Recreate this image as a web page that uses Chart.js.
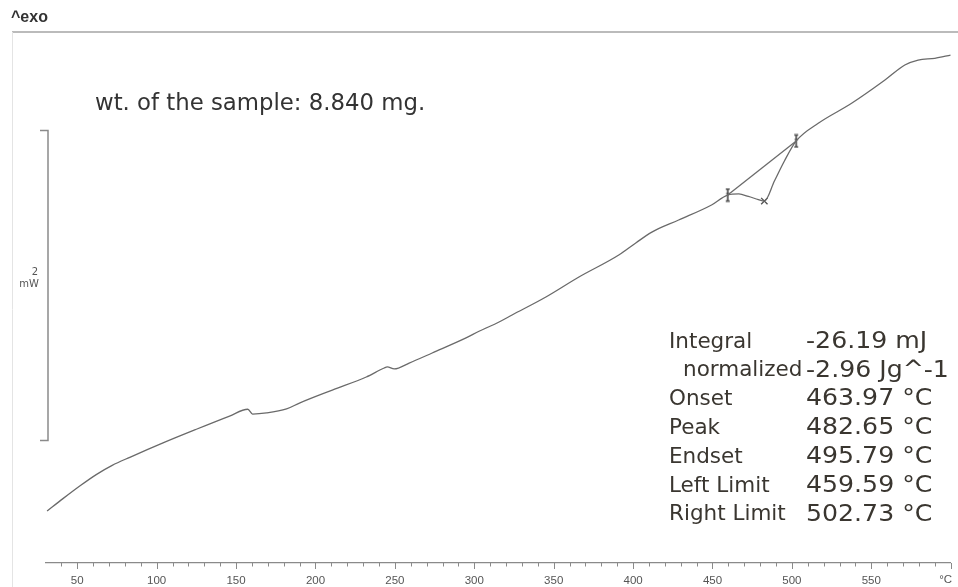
<!DOCTYPE html>
<html>
<head>
<meta charset="utf-8">
<script src="https://cdn.jsdelivr.net/npm/chart.js@4.4.1/dist/chart.umd.min.js"></script>
<style>
  html, body { margin: 0; padding: 0; background: #ffffff; }
  canvas { display: block; }
</style>
</head>
<body>
<canvas id="dsc" width="958" height="587"></canvas>
<script>
// DSC heating run: sample temperature (°C) and heat flow (mW, relative offset)
const temperature = [31.0, 41.2, 52.0, 62.2, 72.0, 83.1, 104.0, 125.0, 145.9, 157.4,
  160.4, 169.2, 181.8, 189.9, 210.6, 232.0, 243.3, 245.2, 249.6, 259.0,
  273.5, 294.8, 303.0, 315.6, 323.8, 345.1, 365.9, 391.0, 401.7, 411.8,
  428.7, 449.4, 459.59, 466.6, 472.6, 478.9, 482.65, 489.0, 495.3, 502.73,
  516.6, 537.6, 558.6, 571.1, 579.5, 590.0, 600.0];
const heatFlow = [0.335, 0.417, 0.500, 0.572, 0.630, 0.682, 0.775, 0.863, 0.948, 0.992,
  0.961, 0.968, 0.994, 1.032, 1.116, 1.200, 1.258, 1.265, 1.252, 1.290,
  1.355, 1.452, 1.495, 1.555, 1.600, 1.716, 1.845, 1.987, 2.065, 2.135,
  2.213, 2.310, 2.374, 2.381, 2.365, 2.345, 2.335, 2.465, 2.594, 2.723,
  2.837, 2.966, 3.116, 3.213, 3.245, 3.256, 3.277];

// peak evaluation limits and peak temperature (°C)
const leftLimit = 459.59;
const rightLimit = 502.73;
const peakTemp = 482.65;

// x axis tick labels (°C)
const tickLabels = [50, 100, 150, 200, 250, 300, 350, 400, 450, 500, 550];
const axisMin = 30;
const axisMax = 600;
const minorStep = 10;

// heat-flow scale bar (mW)
const scaleBarSpan = 2;
const scaleBarBase = 0.79;

// evaluation results
const resultNames = ['Integral', 'normalized', 'Onset', 'Peak', 'Endset', 'Left Limit', 'Right Limit'];
const resultIndent = [0, 1, 0, 0, 0, 0, 0];
const resultValues = ['-26.19 mJ', '-2.96 Jg^-1', '463.97 °C', '482.65 °C', '495.79 °C', '459.59 °C', '502.73 °C'];
const sampleNote = 'wt. of the sample: 8.840 mg.';

const points = temperature.map((t, i) => ({ x: t, y: heatFlow[i] }));
const at = t => points[temperature.indexOf(t)];

// limit marker glyph: short vertical bar with small serifs
function limitGlyph() {
  const c = document.createElement('canvas');
  c.width = 8; c.height = 15;
  const g = c.getContext('2d');
  g.strokeStyle = '#4a4a4a';
  g.lineWidth = 1.6;
  g.beginPath();
  g.moveTo(4, 1); g.lineTo(4, 14);
  g.moveTo(2, 1.5); g.lineTo(6, 1.5);
  g.moveTo(2, 13.5); g.lineTo(6, 13.5);
  g.moveTo(2.5, 6); g.lineTo(5.5, 6);
  g.stroke();
  return c;
}
const limitMark = limitGlyph();

const decorations = {
  id: 'decorations',
  afterDraw(chart) {
    const { ctx, chartArea: area, scales: { x, y } } = chart;
    ctx.save();

    // frame
    ctx.strokeStyle = '#a4a4a4';
    ctx.lineWidth = 1.5;
    ctx.beginPath(); ctx.moveTo(12, area.top); ctx.lineTo(958, area.top); ctx.stroke();
    ctx.strokeStyle = '#e4e4e4';
    ctx.lineWidth = 1;
    ctx.beginPath(); ctx.moveTo(12.5, area.top); ctx.lineTo(12.5, 587); ctx.stroke();

    // exo direction label
    ctx.fillStyle = '#333333';
    ctx.font = 'bold 16px "Liberation Sans", Arial, sans-serif';
    ctx.textBaseline = 'middle';
    ctx.textAlign = 'left';
    ctx.fillText('^exo', 11, 18);

    // x axis tick marks
    ctx.strokeStyle = '#8a8a8a';
    ctx.lineWidth = 1;
    ctx.beginPath();
    for (let t = axisMin + minorStep; t <= axisMax; t += minorStep) {
      const px = Math.round(x.getPixelForValue(t)) + 0.5;
      const len = (t % 50 === 0) ? 6 : 3.5;
      ctx.moveTo(px, area.bottom);
      ctx.lineTo(px, area.bottom + len);
    }
    ctx.stroke();

    // unit at the end of the axis
    ctx.fillStyle = '#555555';
    ctx.font = '11.5px "Liberation Sans", Arial, sans-serif';
    ctx.textAlign = 'center';
    ctx.fillText('°C', x.getPixelForValue(axisMax) - 5, 580);

    // scale bar
    const yTop = y.getPixelForValue(scaleBarBase + scaleBarSpan);
    const yBot = y.getPixelForValue(scaleBarBase);
    ctx.strokeStyle = '#8a8a8a';
    ctx.lineWidth = 1.5;
    ctx.beginPath();
    ctx.moveTo(40, yTop); ctx.lineTo(48, yTop); ctx.lineTo(48, yBot); ctx.lineTo(40, yBot);
    ctx.stroke();
    ctx.fillStyle = '#555555';
    ctx.font = '10px "DejaVu Sans", sans-serif';
    ctx.textAlign = 'right';
    ctx.fillText(String(scaleBarSpan), 38, 272);
    ctx.fillText('mW', 39, 284);

    // sample note
    ctx.fillStyle = '#333333';
    ctx.textAlign = 'left';
    ctx.font = '22.8px "DejaVu Sans", sans-serif';
    ctx.fillText(sampleNote, 95, 104);

    // results table
    resultNames.forEach((name, i) => {
      const ty = 342 + i * 28.8;
      ctx.fillStyle = '#3a3630';
      ctx.font = '21.5px "DejaVu Sans", sans-serif';
      ctx.fillText(name, 669 + resultIndent[i] * 14, ty);
      ctx.save();
      ctx.translate(806, ty);
      ctx.scale(1.12, 1);
      ctx.font = '22.5px "DejaVu Sans", sans-serif';
      ctx.fillText(resultValues[i], 0, 0);
      ctx.restore();
    });

    ctx.restore();
  }
};

new Chart(document.getElementById('dsc'), {
  type: 'line',
  data: {
    datasets: [
      {
        label: 'Heat flow',
        data: points,
        borderColor: '#6a6a6a',
        borderWidth: 1.3,
        pointRadius: 0,
        cubicInterpolationMode: 'monotone'
      },
      {
        label: 'Baseline',
        data: [at(leftLimit), at(rightLimit)],
        borderColor: '#6a6a6a',
        borderWidth: 1.3,
        pointRadius: 0
      },
      {
        label: 'Evaluation marks',
        data: [at(leftLimit), at(peakTemp), at(rightLimit)],
        showLine: false,
        pointStyle: [limitMark, 'crossRot', limitMark],
        pointRadius: [6, 4.5, 6],
        pointBorderColor: '#505050',
        pointBorderWidth: 1.3,
        pointBackgroundColor: '#505050'
      }
    ]
  },
  options: {
    responsive: false,
    animation: false,
    events: [],
    layout: { padding: { top: 32, left: 45.5, right: 5.4, bottom: 0 } },
    plugins: { legend: { display: false }, tooltip: { enabled: false } },
    scales: {
      x: {
        type: 'linear',
        position: 'bottom',
        min: axisMin,
        max: axisMax,
        afterBuildTicks: scale => { scale.ticks = tickLabels.map(v => ({ value: v })); },
        afterFit: scale => { scale.height = 24; },
        grid: { display: false, drawTicks: false },
        border: { display: true, color: '#8a8a8a', width: 1.2 },
        ticks: {
          autoSkip: false,
          maxRotation: 0,
          padding: 11,
          color: '#555555',
          font: { family: '"Liberation Sans", Arial, sans-serif', size: 11.5 }
        }
      },
      y: {
        display: false,
        min: 0,
        max: 3.426
      }
    }
  },
  plugins: [decorations]
});
</script>
</body>
</html>
